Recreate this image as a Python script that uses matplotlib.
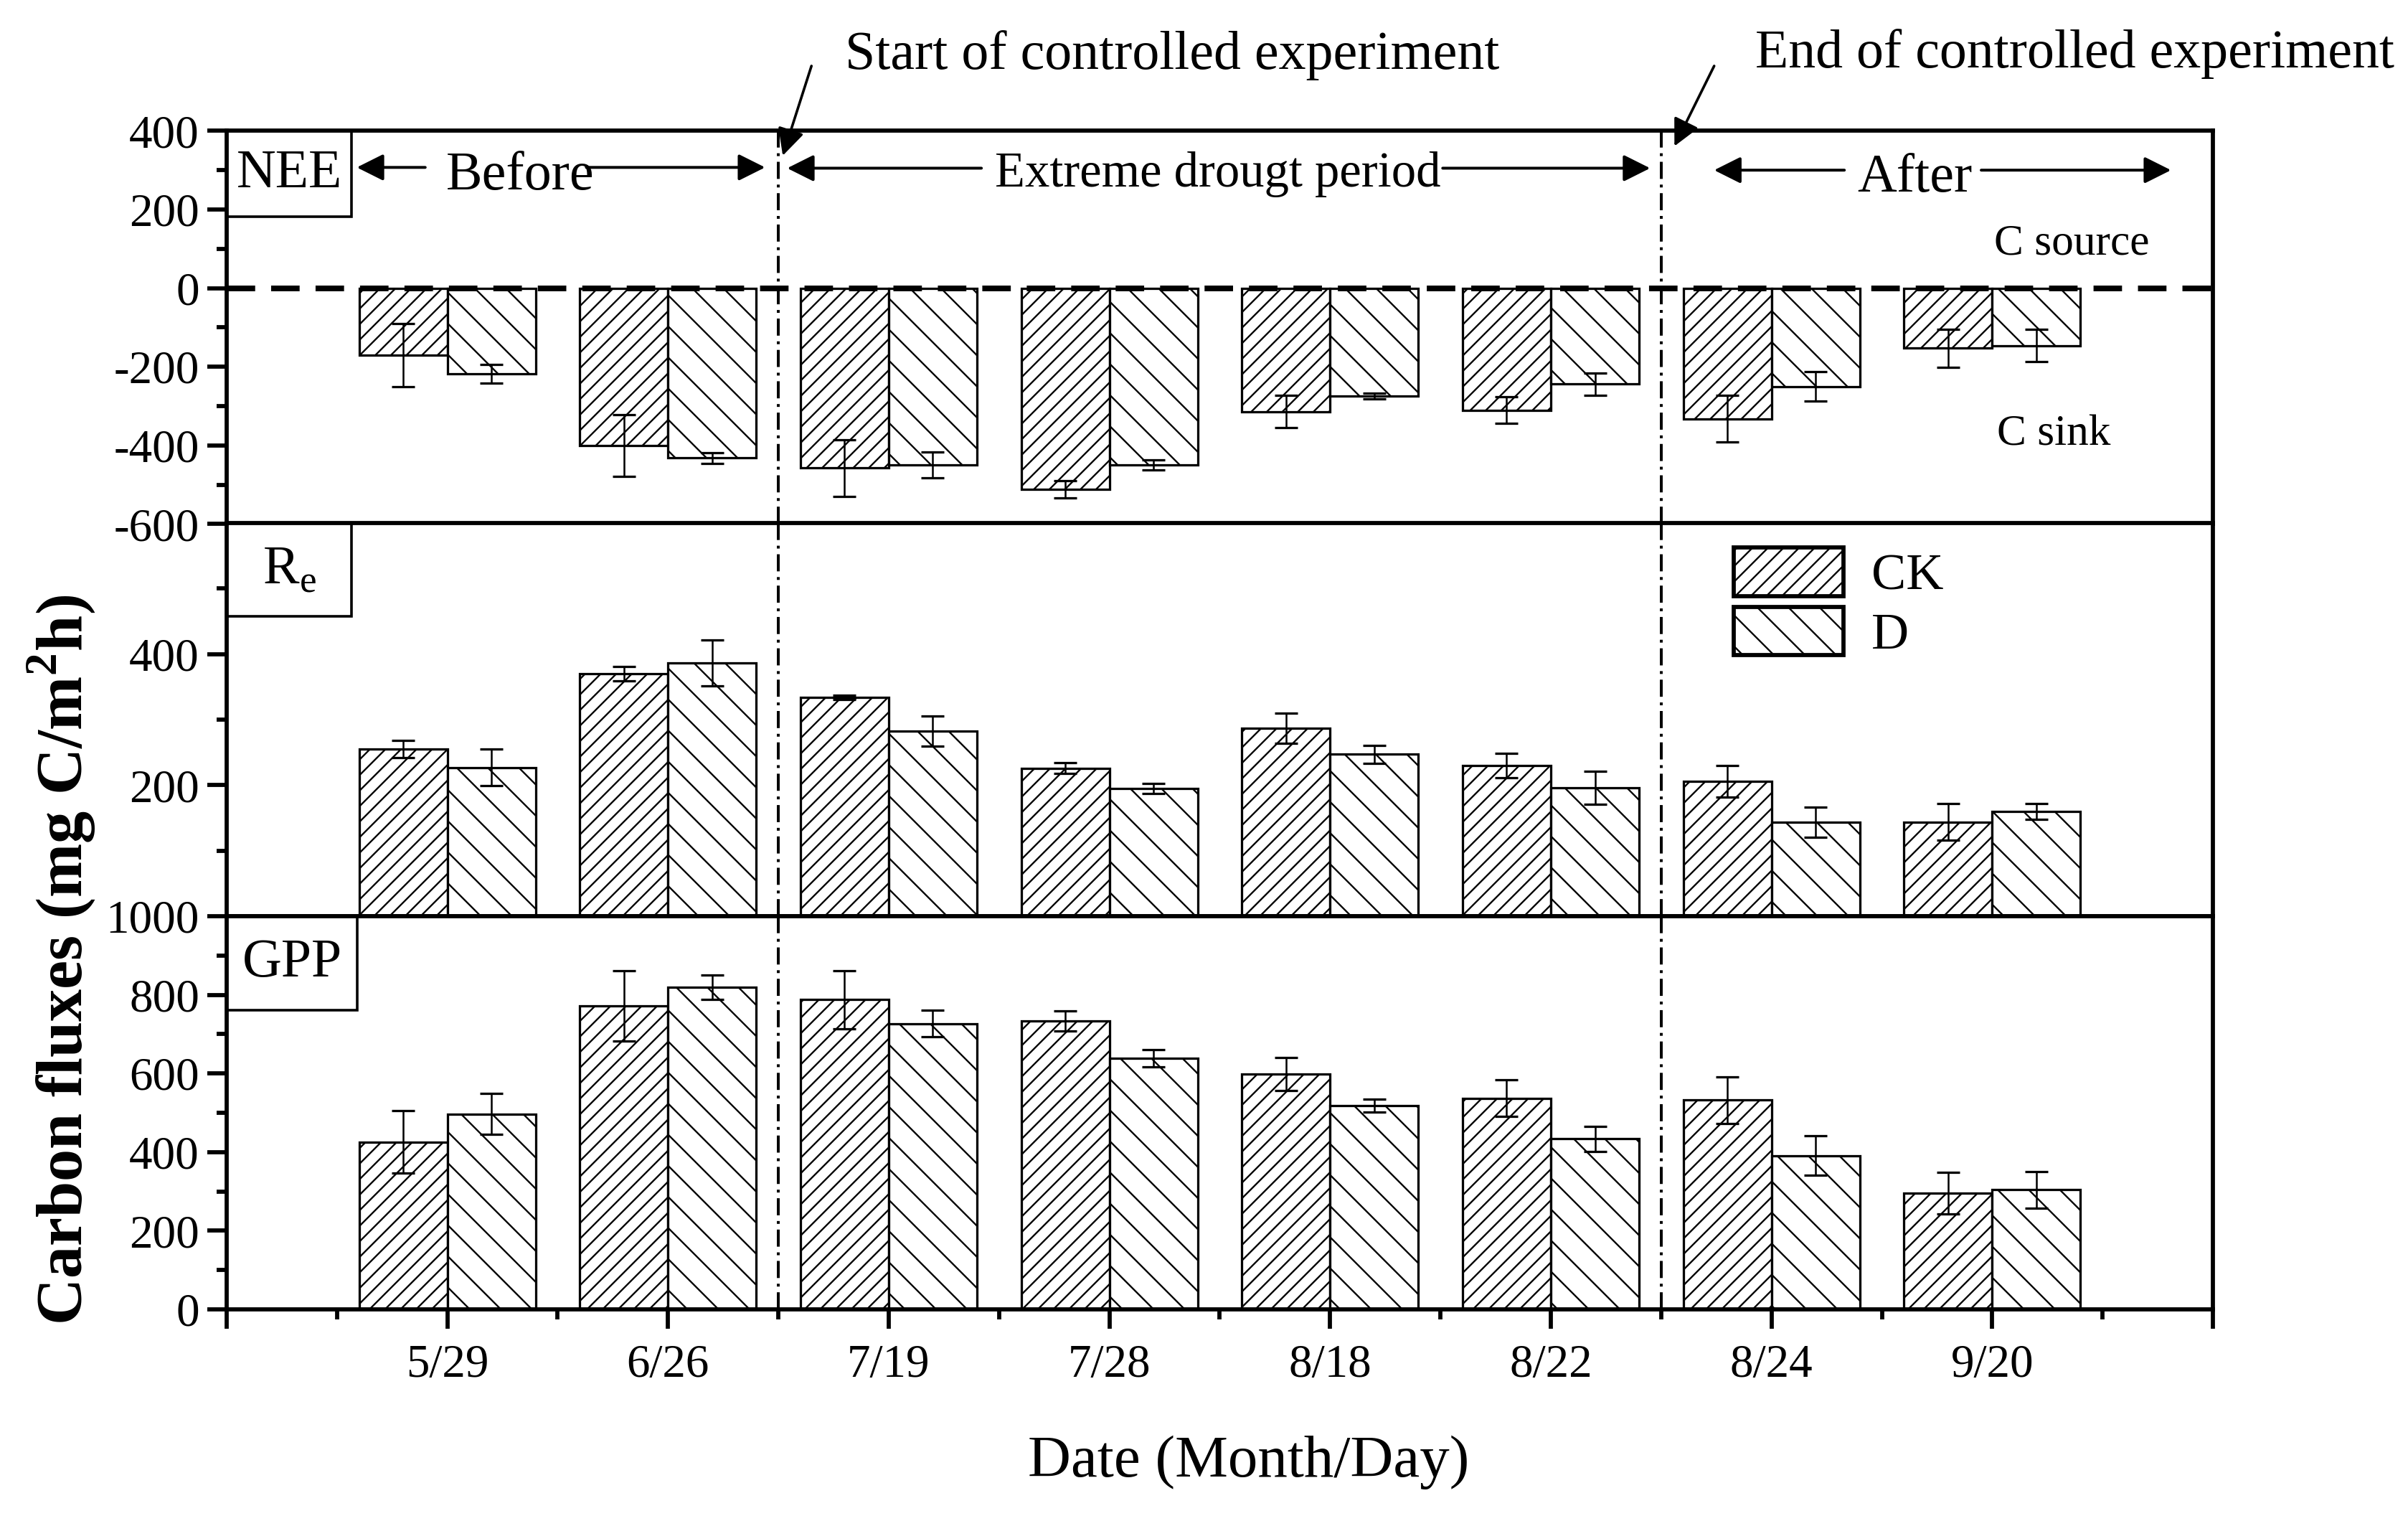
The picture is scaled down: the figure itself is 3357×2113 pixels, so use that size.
import matplotlib
matplotlib.use('Agg')
import matplotlib.pyplot as plt
from matplotlib.patches import Rectangle, Patch
import numpy as np

# values (mg C / m2 h)
dates = ['5/29', '6/26', '7/19', '7/28', '8/18', '8/22', '8/24', '9/20']

nee_ck = [-170, -400, -457, -512, -314, -310, -332, -153]
nee_ck_err = [80, 79, 72, 22, 41, 33, 59, 48]
nee_d = [-218, -432, -450, -450, -275, -244, -250, -146]
nee_d_err = [24, 13, 33, 13, 7, 28, 37, 41]

re_ck = [255, 370, 334, 226, 287, 230, 206, 144]
re_ck_err = [13, 11, 3, 8, 23, 19, 24, 28]
re_d = [227, 387, 282, 195, 247, 196, 144, 160]
re_d_err = [28, 35, 23, 8, 14, 25, 23, 12]

gpp_ck = [426, 772, 788, 733, 598, 537, 532, 295]
gpp_ck_err = [80, 89, 74, 26, 42, 47, 60, 53]
gpp_d = [497, 820, 727, 639, 518, 434, 391, 304]
gpp_d_err = [52, 31, 33, 22, 16, 32, 50, 47]

plt.rcParams['font.family'] = ['Liberation Serif', 'DejaVu Serif']
plt.rcParams['mathtext.fontset'] = 'custom'
plt.rcParams['mathtext.rm'] = 'Liberation Serif'
plt.rcParams['mathtext.bf'] = 'Liberation Serif:bold'
plt.rcParams['axes.unicode_minus'] = False
plt.rcParams['hatch.linewidth'] = 0.65

DPI = 260
fig = plt.figure(figsize=(3357 / DPI, 2113 / DPI), dpi=DPI)

L, W, H = 0.0941, 0.919 - 0.0941, 0.2594
ax1 = fig.add_axes([L, 0.6543, W, H])
ax2 = fig.add_axes([L, 0.3956, W, H])
ax3 = fig.add_axes([L, 0.1363, W, H])

x = np.arange(1, len(dates) + 1)
bw = 0.4
ck_hatch = '////'
d_hatch = '\\\\'
err_kw = dict(elinewidth=0.7, capthick=0.9, ecolor='k')

panels = [
    (ax1, nee_ck, nee_ck_err, nee_d, nee_d_err, (-600, 400)),
    (ax2, re_ck, re_ck_err, re_d, re_d_err, (0, 600)),
    (ax3, gpp_ck, gpp_ck_err, gpp_d, gpp_d_err, (0, 1000)),
]

for ax, ck, cke, d, de, lim in panels:
    ax.bar(x - bw / 2, ck, bw, color='white', edgecolor='k', hatch=ck_hatch, lw=0.9,
           yerr=cke, capsize=4.4, error_kw=err_kw, zorder=2)
    ax.bar(x + bw / 2, d, bw, color='white', edgecolor='k', hatch=d_hatch, lw=0.9,
           yerr=de, capsize=4.4, error_kw=err_kw, zorder=2)
    ax.set_xlim(0, 9)
    ax.set_ylim(*lim)
    for xv in (2.5, 6.5):
        ax.axvline(xv, color='k', lw=1.1, dashes=(6, 2, 1, 2), zorder=3)
    for s in ax.spines.values():
        s.set_linewidth(1.6)
    ax.tick_params(axis='y', which='major', direction='out', length=7.5, width=1.6,
                   labelsize=18, pad=3)
    ax.tick_params(axis='y', which='minor', direction='out', length=4, width=1.6)

# y ticks
ax1.set_yticks(np.arange(-600, 401, 200))
ax1.set_yticks(np.arange(-500, 400, 200), minor=True)
ax2.set_yticks([200, 400])
ax2.set_yticks([100, 300, 500], minor=True)
ax3.set_yticks(np.arange(0, 1001, 200))
ax3.set_yticks(np.arange(100, 1000, 200), minor=True)

for ax in (ax1, ax2):
    ax.tick_params(axis='x', which='both', bottom=False, labelbottom=False)

ax3.set_xticks(np.arange(0, 10))
ax3.set_xticklabels([''] + dates + [''])
ax3.set_xticks(np.arange(0.5, 9, 1), minor=True)
ax3.tick_params(axis='x', which='major', direction='out', length=7.5, width=1.6,
                labelsize=18, pad=6)
ax3.tick_params(axis='x', which='minor', direction='out', length=4, width=1.6)

# zero line in NEE panel
ax1.axhline(0, color='k', lw=2.2, dashes=(5, 2.8), zorder=5)

# panel name boxes
for ax, name, bh in ((ax1, 'NEE', 0.219), (ax2, r'R$_\mathrm{e}$', 0.238), (ax3, 'GPP', 0.24)):
    bwid = 0.063 if ax is not ax3 else 0.0658
    ax.add_patch(Rectangle((0, 1 - bh), bwid, bh, transform=ax.transAxes,
                           fill=False, lw=1.0, edgecolor='k', zorder=6))
    ax.text(bwid / 2, 1 - bh / 2, name, transform=ax.transAxes, ha='center',
            va='center', fontsize=21)

# period arrows
def harrow(ax, head, tail, y):
    ax.annotate('', xy=(head, y), xytext=(tail, y),
                arrowprops=dict(arrowstyle='-|>', color='k', lw=1.1,
                                mutation_scale=22, shrinkA=0, shrinkB=0))

harrow(ax1, 0.59, 0.90, 307)
ax1.text(1.33, 285, 'Before', ha='center', va='center', fontsize=21)
harrow(ax1, 2.44, 1.63, 307)

harrow(ax1, 2.54, 3.42, 305)
ax1.text(4.49, 290, 'Extreme drougt period', ha='center', va='center', fontsize=19)
harrow(ax1, 6.45, 5.51, 305)

harrow(ax1, 6.74, 7.33, 300)
ax1.text(7.65, 280, 'After', ha='center', va='center', fontsize=21)
harrow(ax1, 8.81, 7.95, 300)

ax1.text(8.01, 112, 'C source', ha='left', va='center', fontsize=17)
ax1.text(8.02, -372, 'C sink', ha='left', va='center', fontsize=17)

# start / end markers
for head, tail in (((2.52, 337), (2.65, 565)), ((6.56, 361), (6.74, 565))):
    ax1.annotate('', xy=head, xytext=tail, annotation_clip=False,
                 arrowprops=dict(arrowstyle='-|>', color='k', lw=1.0,
                                 mutation_scale=22, shrinkA=0, shrinkB=0))
fig.text(0.351, 0.9635, 'Start of controlled experiment', va='center', fontsize=21)
fig.text(0.729, 0.9645, 'End of controlled experiment', va='center', fontsize=21)

# legend
handles = [Patch(facecolor='white', edgecolor='k', hatch=ck_hatch, lw=1.6),
           Patch(facecolor='white', edgecolor='k', hatch=d_hatch, lw=1.6)]
ax2.legend(handles, ['CK', 'D'], loc='upper left', bbox_to_anchor=(0.7586, 0.938),
           frameon=False, fontsize=20, handlelength=2.12, handleheight=1.07,
           handletextpad=0.54, labelspacing=0.125, borderpad=0, borderaxespad=0)

fig.text(0.0256, 0.367, r'Carbon fluxes (mg C/m$^\mathbf{2}$h)', rotation=90,
         ha='center', va='center', fontsize=25, fontweight='bold')
fig.text(0.5186, 0.0355, 'Date (Month/Day)', ha='center', va='center', fontsize=23)

fig.savefig('out.png', dpi=DPI)
